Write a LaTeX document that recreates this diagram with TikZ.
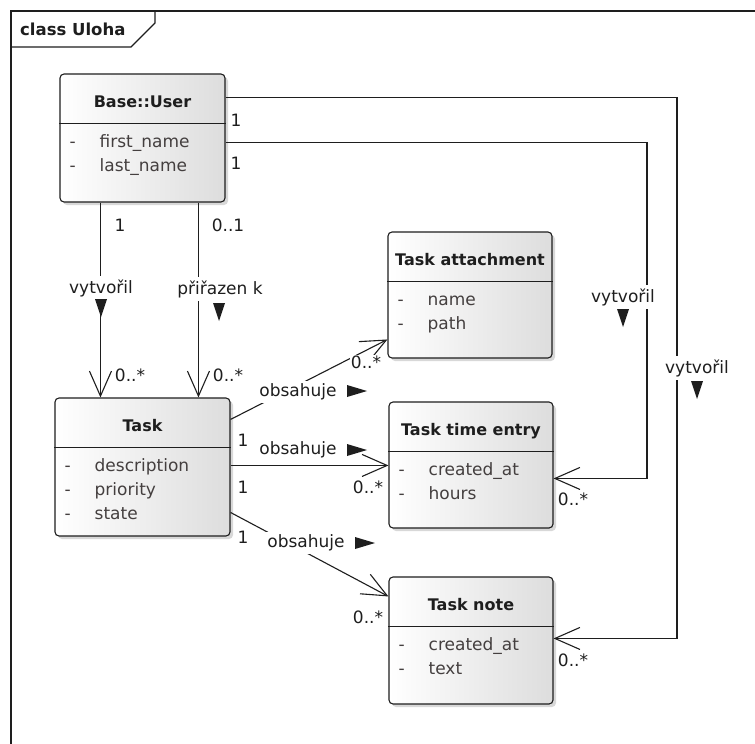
\documentclass[tikz,border=0pt]{standalone}
\usepackage{fontspec}
\setmainfont{DejaVu Sans}
\usetikzlibrary{arrows.meta,calc,shadows}
\definecolor{ink}{HTML}{1E1E1E}
\definecolor{attr}{HTML}{443F3F}
\definecolor{boxgray}{HTML}{DDDDDD}

\tikzset{
  classbox/.style={draw=ink, line width=1.1pt, rounded corners=4pt,
    left color=white, right color=boxgray, inner sep=0pt,
    drop shadow={shadow xshift=3pt, shadow yshift=-3pt, opacity=0.25, fill=black!60}},
  classname/.style={font=\fontsize{16}{19}\bfseries\selectfont, text=ink, anchor=base, inner sep=0pt},
  attrtext/.style={font=\fontsize{17}{20}\selectfont, text=attr, anchor=base west, inner sep=0pt},
  mult/.style={font=\fontsize{17}{20}\selectfont, text=ink, inner sep=1pt},
  rolelabel/.style={mult, fill=white, inner sep=3pt},
  divider/.style={draw=ink, line width=1.1pt},
  assoc/.style={draw=ink, line width=1.1pt},
  nav/.style={assoc, -{Straight Barb[length=25pt,width=22pt,line width=1.1pt]}},
  downtri/.pic={\fill[ink] (-6,-9) -- (6,-9) -- (0,9) -- cycle;},
  righttri/.pic={\fill[ink] (-10,-6) -- (-10,6) -- (10,0) -- cycle;},
}

% a class box: name, centre, width, height, title, attribute rows
\newcommand\umlclass[6]{%
  \node[classbox, minimum width=#3, minimum height=#4] (#1) at (#2) {};
  \node[classname] (#1-title) at ($(#1.north)+(0,34.5)$) {#5};
  \draw[divider] ($(#1.north west)+(0,50)$) -- ($(#1.north east)+(0,50)$);
  \foreach \att [count=\k] in {#6} {
    \node[attrtext] (#1-dash-\k) at ($(#1.north west)+(10,50+24.5+24*\k-24)$) {-};
    \node[attrtext] (#1-att-\k) at ($(#1.north west)+(40,50+24.5+24*\k-24)$) {\att};
  }%
}

\begin{document}
\begin{tikzpicture}[x=1pt,y=-1pt]
\useasboundingbox (0,0) rectangle (755,744);
\fill[white] (0,0) rectangle (755,744);

% diagram frame with its name tab
\draw[ink, line width=1.3pt] (11,750) -- (11,11) -- (760,11);
\draw[ink, line width=1.1pt] (11,47) -- (131,47) -- (155,23) -- (155,11);
\node[font=\fontsize{16.5}{19}\bfseries\selectfont, text=ink, anchor=west, inner sep=0pt] (frame-title) at (20,29.5) {class Uloha};

% classes
\umlclass{user}{142.5,138}{165pt}{128pt}{Base::User}{first\_name,last\_name}
\umlclass{task}{142.5,467}{175pt}{138pt}{Task}{description,priority,state}
\umlclass{attach}{470,295}{164pt}{126pt}{Task attachment}{name,path}
\umlclass{time}{471,465}{164pt}{126pt}{Task time entry}{created\_at,hours}
\umlclass{note}{471,640.5}{164pt}{127pt}{Task note}{created\_at,text}

% connector end points on the class borders
\coordinate (uA) at ($(user.north east)+(0,24)$);
\coordinate (uB) at ($(user.north east)+(0,69)$);
\coordinate (uL) at ($(user.south west)+(41,0)$);
\coordinate (uR) at ($(user.south west)+(139,0)$);
\coordinate (tL) at ($(task.north west)+(46,0)$);
\coordinate (tR) at ($(task.north west)+(144,0)$);
\coordinate (tA) at ($(task.north east)+(0,22)$);
\coordinate (tB) at ($(task.north east)+(0,68)$);
\coordinate (tC) at ($(task.north east)+(0,115)$);
\coordinate (aIn) at ($(attach.north west)+(0,108)$);
\coordinate (eIn) at (time.west |- tB);
\coordinate (eR) at ($(time.north east)+(0,77)$);
\coordinate (nIn) at ($(note.north west)+(0,20)$);
\coordinate (nR) at ($(note.north east)+(0,62)$);
\coordinate (innerX) at (647,143);
\coordinate (outerX) at (677,98);

% associations
\draw[nav] (uL) -- (tL);
\draw[nav] (uR) -- (tR);
\draw[nav] (uB) -| (innerX |- eR) -- (eR);
\draw[nav] (uA) -| (outerX |- nR) -- (nR);
\draw[nav] (tA) -- (aIn);
\draw[nav] (tB) -- (eIn);
\draw[nav] (tC) -- (nIn);

% association names with their reading direction
\node[rolelabel] (l-created1) at (101,288) {vytvořil};
\pic at (101,308) {downtri};
\node[rolelabel] (l-assigned) at (220,289) {přiřazen k};
\pic at (219,312) {downtri};
\node[rolelabel] (l-created2) at (623,297) {vytvořil};
\pic at (623,318) {downtri};
\node[rolelabel] (l-created3) at (697,368) {vytvořil};
\pic at (697,390) {downtri};
\node[rolelabel] (l-contains1) at (298,392) {obsahuje};
\pic at (357,391) {righttri};
\node[mult] (l-contains2) at (298,450) {obsahuje};
\pic at (357,450) {righttri};
\node[rolelabel] (l-contains3) at (306,543) {obsahuje};
\pic at (365,543) {righttri};

% multiplicities
\node[mult] (m-u1) at (120,225) {1};
\node[mult] (m-u2) at (228,225) {0..1};
\node[mult] (m-t1) at (130,375) {0..*};
\node[mult] (m-t2) at (228,375) {0..*};
\node[mult] (m-u3) at (236,120) {1};
\node[mult] (m-u4) at (236,163) {1};
\node[mult] (m-e1) at (573,499) {0..*};
\node[mult] (m-n1) at (573,660) {0..*};
\node[mult] (m-t3) at (243,440) {1};
\node[mult] (m-t4) at (243,487) {1};
\node[mult] (m-t5) at (243,537) {1};
\node[rolelabel, inner sep=1pt] (m-a2) at (366,362) {0..*};
\node[mult] (m-e2) at (368,487) {0..*};
\node[mult] (m-n2) at (368,617) {0..*};
\end{tikzpicture}
\end{document}
